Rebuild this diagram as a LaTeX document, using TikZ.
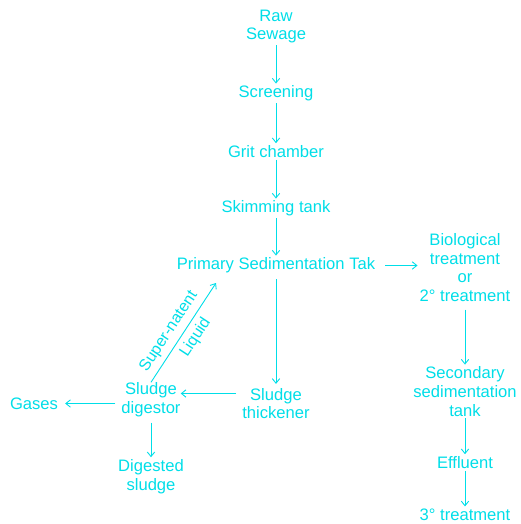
\documentclass[tikz,border=0pt]{standalone}
\usepackage{fontspec}
\setmainfont{Liberation Sans}
\usetikzlibrary{arrows.meta}
\definecolor{aqua}{RGB}{0,222,232}

\begin{document}
\begin{tikzpicture}[x=1pt, y=-1pt,
  font=\fontsize{16.6}{18.6}\selectfont, color=aqua,
  stage/.style={align=center, inner sep=2pt, text=aqua, yshift=-1.5pt},
  flow/.style={draw=aqua, line width=0.9pt, -{Straight Barb[length=1.6mm, width=2.6mm]}},
  tag/.style={font=\fontsize{16}{17}\selectfont, text=aqua, inner sep=5pt}
]
  \useasboundingbox (0,0) rectangle (520,524);
  % main line
  \node[stage] (raw)  at (276,25)  {Raw\\Sewage};
  \node[stage] (scr)  at (276,92)  {Screening};
  \node[stage] (grit) at (276,150) {Grit chamber};
  \node[stage] (skim) at (276,207) {Skimming tank};
  \node[stage] (prim) at (276,264) {Primary Sedimentation Tak};
  % right branch
  \node[stage] (bio)  at (465,266) {Biological\\treatment\\or\\2\textdegree{} treatment};
  \node[stage] (sec)  at (465,390) {Secondary\\sedimentation\\tank};
  \node[stage] (eff)  at (465,461) {Effluent};
  \node[stage] (ter)  at (465,513) {3\textdegree{} treatment};
  % sludge side
  \node[stage] (thk)  at (276,402) {Sludge\\thickener};
  \node[stage] (dig)  at (151,398) {Sludge\\digestor};
  \node[stage] (gas)  at (34,402)  {Gases};
  \node[stage] (dsl)  at (151,475) {Digested\\sludge};
  \coordinate (ret) at (216,283);

  \draw[flow] (raw) -- (scr);
  \draw[flow] (scr) -- (grit);
  \draw[flow] (grit) -- (skim);
  \draw[flow] (skim) -- (prim);
  \draw[flow] ([xshift=8pt]prim.east) coordinate (p1) -- (bio.west |- p1);
  \draw[flow] ([yshift=-6pt]bio.south) -- (sec.north);
  \draw[flow] (sec) -- (eff);
  \draw[flow] (eff) -- (ter);
  \draw[flow] ([yshift=-4pt]prim.south) -- ([yshift=2pt]thk.north);
  \draw[flow] ([xshift=-4pt, yshift=10pt]thk.west) coordinate (t1) -- ([xshift=-2pt]dig.east |- t1);
  \draw[flow] ([xshift=-4pt, yshift=-4pt]dig.west) coordinate (d1) -- ([xshift=5pt]gas.east |- d1);
  \draw[flow] ([yshift=-4pt]dig.south) -- (dsl);
  \draw[flow] ([yshift=-2pt]dig.north) -- (ret)
    node[tag, pos=0.44, sloped, above] {Super-natent}
    node[tag, pos=0.52, sloped, below] {Liquid};
\end{tikzpicture}
\end{document}
